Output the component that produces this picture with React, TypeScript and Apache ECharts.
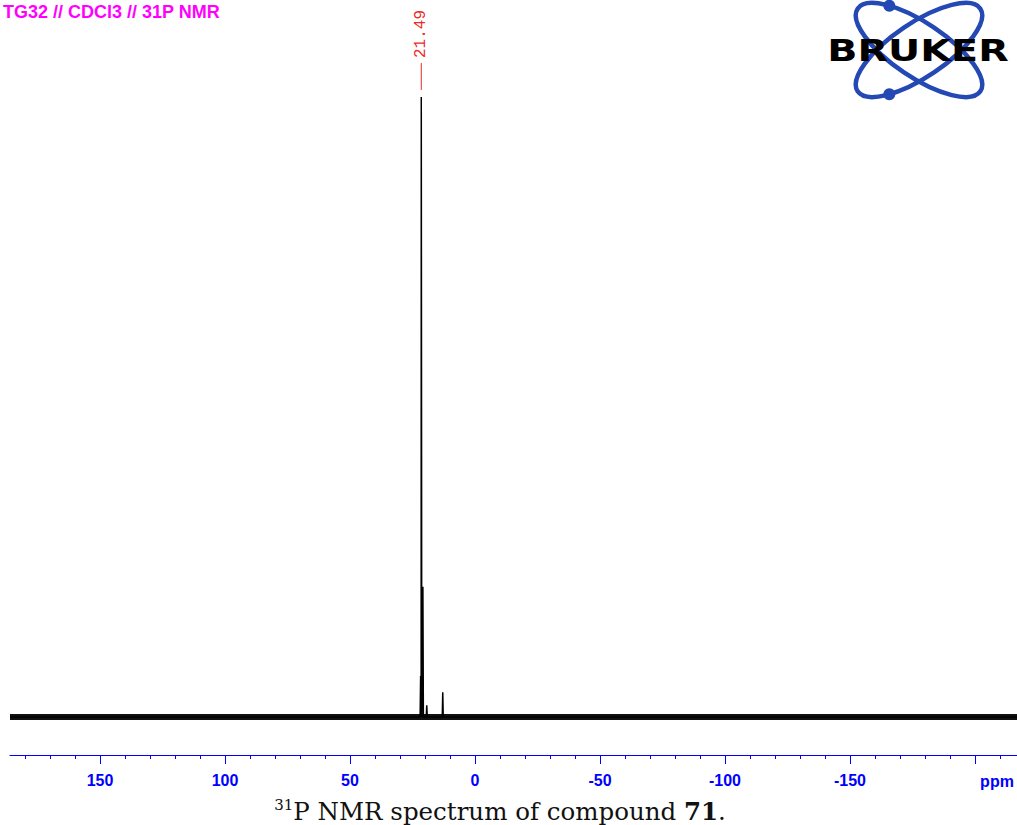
import React, { useEffect, useRef } from 'react';
import * as echarts from 'echarts';

// ---- data ----
const titleText = 'TG32 // CDCl3 // 31P NMR';
const peakLabelValue = 21.49;
const peakPpm = [21.75, 21.49, 20.85, 19.3, 12.9];
const peakIntensity = [6.6, 100, 21, 1.9, 4];
const ppmRange = [-216.8, 186];
const majorTicks = [150, 100, 50, 0, -50, -100, -150, -200];
const labelTicks = [150, 100, 50, 0, -50, -100, -150];
const minorTicks = [180, 170, 160, 150, 140, 130, 120, 110, 100, 90, 80, 70, 60, 50, 40, 30, 20, 10, 0,
  -10, -20, -30, -40, -50, -60, -70, -80, -90, -100, -110, -120, -130, -140, -150, -160, -170, -180, -190, -200, -210];
const unitLabel = 'ppm';
const captionParts = ['31', 'P NMR spectrum of compound ', '71', '.'];

const BLUE = '#0000ff';

export default function App() {
  const ref = useRef<HTMLDivElement>(null);
  useEffect(() => {
    if (!ref.current) return;
    const chart = echarts.init(ref.current, null, { renderer: 'svg' });

    // spectrum peaks as spikes on the baseline
    const spikes: [number, number][] = [[ppmRange[1], 0]];
    const order = peakPpm.map((p, i) => i).sort((a, b) => peakPpm[b] - peakPpm[a]);
    order.forEach((i) => {
      spikes.push([peakPpm[i] + 0.2, 0]);
      spikes.push([peakPpm[i], peakIntensity[i]]);
      spikes.push([peakPpm[i] - 0.2, 0]);
    });
    spikes.push([ppmRange[0], 0]);

    const axisBase = {
      type: 'value' as const,
      inverse: true,
      min: ppmRange[0],
      max: ppmRange[1],
      position: 'bottom' as const,
      splitLine: { show: false },
    };

    chart.setOption({
      animation: false,
      grid: { left: 10, right: 0, top: 97, bottom: 70, containLabel: false },
      xAxis: [
        {
          ...axisBase,
          axisLine: { show: true, onZero: false, lineStyle: { color: BLUE, width: 1 } },
          axisTick: { show: true, customValues: majorTicks, length: 9, lineStyle: { color: BLUE, width: 1 } },
          axisLabel: {
            show: true,
            customValues: labelTicks,
            color: BLUE,
            fontFamily: 'Liberation Sans, Arial, sans-serif',
            fontWeight: 'bold',
            fontSize: 16,
            margin: 17,
          },
        },
        {
          ...axisBase,
          axisLine: { show: false, onZero: false },
          axisTick: { show: true, customValues: minorTicks, length: 4, lineStyle: { color: BLUE, width: 1 } },
          axisLabel: { show: false },
        },
      ],
      yAxis: { type: 'value', min: -6.13, max: 100, show: false },
      series: [
        {
          type: 'line',
          symbol: 'none',
          data: [[ppmRange[1], 0], [ppmRange[0], 0]],
          lineStyle: { color: '#111', width: 6 },
          silent: true,
        },
        {
          type: 'line',
          symbol: 'none',
          data: spikes,
          lineStyle: { color: '#000', width: 1.5 },
          silent: true,
        },
      ],
    });

    const px = chart.convertToPixel({ xAxisIndex: 0 }, peakLabelValue) as number;
    const unitX = (chart.convertToPixel({ xAxisIndex: 0 }, -200) as number) + 22;

    // Bruker logo
    const cx = 919, cy = 50, rx = 74, ry = 27, phi = (34 * Math.PI) / 180;
    const t = Math.atan2(-0.745, -0.667);
    const dx = rx * Math.cos(t) * Math.cos(phi) - ry * Math.sin(t) * Math.sin(phi);
    const dy = rx * Math.cos(t) * Math.sin(phi) + ry * Math.sin(t) * Math.cos(phi);
    const logoBlue = '#2448b4';

    chart.setOption({
      graphic: [
        {
          type: 'text', left: 3, top: 3,
          style: { text: titleText, fill: '#ff00ff', font: 'bold 18px "Liberation Sans", Arial, sans-serif' },
        },
        {
          type: 'line', shape: { x1: px, y1: 63, x2: px, y2: 90 },
          style: { stroke: '#ee2a2a', lineWidth: 1 },
        },
        {
          type: 'text', x: px, y: 34, rotation: Math.PI / 2,
          style: {
            text: peakLabelValue.toFixed(2), fill: '#ee2a2a',
            font: '16px "Liberation Mono", "Courier New", monospace',
            align: 'center', verticalAlign: 'middle',
          },
        },
        {
          type: 'ellipse', x: cx, y: cy, rotation: -phi,
          shape: { cx: 0, cy: 0, rx, ry },
          style: { fill: 'none', stroke: logoBlue, lineWidth: 4.5 },
        },
        {
          type: 'ellipse', x: cx, y: cy, rotation: phi,
          shape: { cx: 0, cy: 0, rx, ry },
          style: { fill: 'none', stroke: logoBlue, lineWidth: 4.5 },
        },
        { type: 'circle', shape: { cx: cx + dx, cy: cy + dy, r: 6 }, style: { fill: logoBlue } },
        { type: 'circle', shape: { cx: cx + dx, cy: cy - dy, r: 6 }, style: { fill: logoBlue } },
        {
          type: 'text', x: 918, y: 50, scaleX: 1.28,
          style: {
            text: 'BRUKER', fill: '#000',
            font: 'bold 31px "DejaVu Sans", sans-serif',
            align: 'center', verticalAlign: 'middle',
          },
        },
        {
          type: 'text', x: unitX, y: 781,
          style: {
            text: unitLabel, fill: BLUE,
            font: 'bold 16px "Liberation Sans", Arial, sans-serif',
            align: 'center', verticalAlign: 'middle',
          },
        },
        {
          type: 'text', x: 500, y: 811,
          style: {
            text: `{sup|${captionParts[0]}}{n|${captionParts[1]}}{b|${captionParts[2]}}{n|${captionParts[3]}}`,
            align: 'center', verticalAlign: 'middle',
            rich: {
              sup: { fontSize: 15, fontFamily: 'DejaVu Serif', fill: '#111', verticalAlign: 'top', lineHeight: 28 },
              n: { fontSize: 24.5, fontFamily: 'DejaVu Serif', fill: '#111', lineHeight: 28 },
              b: { fontSize: 24.5, fontFamily: 'DejaVu Serif', fontWeight: 'bold', fill: '#111', lineHeight: 28 },
            },
          },
        },
      ],
    });

    return () => chart.dispose();
  }, []);
  return <div ref={ref} style={{ position: 'absolute', left: 0, top: 0, width: 1017, height: 825 }} />;
}
